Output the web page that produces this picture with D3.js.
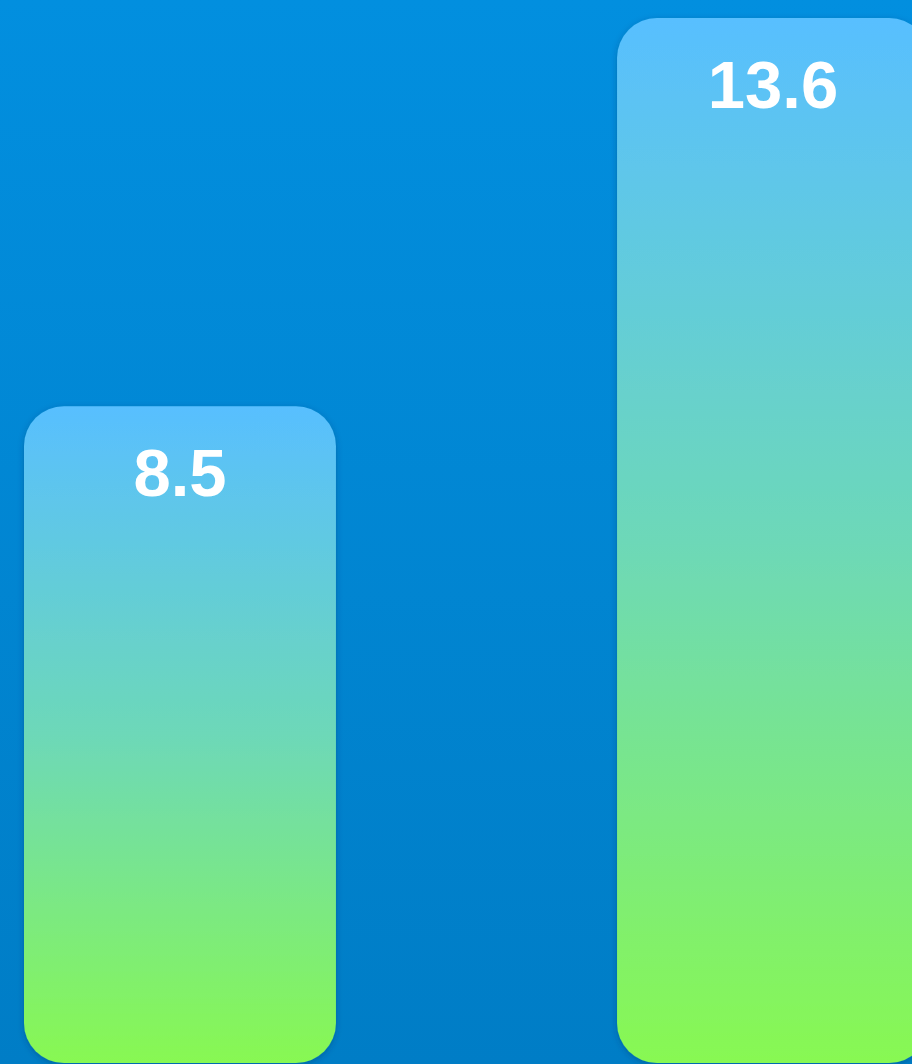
<!DOCTYPE html>
<html><head><meta charset="utf-8">
<script src="https://cdn.jsdelivr.net/npm/d3@7"></script>
<style>html,body{margin:0;padding:0;overflow:hidden;background:#0088d6}</style>
</head><body>
<script>
const categories = ["A", "B"];
const values = [8.5, 13.6];
const labels = ["8.5", "13.6"];

const W = 912, H = 1064;
const svg = d3.select("body").append("svg").attr("width", W).attr("height", H);
const defs = svg.append("defs");

const bg = defs.append("linearGradient").attr("id", "bg").attr("x1", 0).attr("y1", 0).attr("x2", 0).attr("y2", 1);
bg.append("stop").attr("offset", "0%").attr("stop-color", "#028fdf");
bg.append("stop").attr("offset", "100%").attr("stop-color", "#007dc6");

const bar = defs.append("linearGradient").attr("id", "bar").attr("x1", 0).attr("y1", 0).attr("x2", 0).attr("y2", 1);
bar.append("stop").attr("offset", "0%").attr("stop-color", "#58bfff");
bar.append("stop").attr("offset", "50%").attr("stop-color", "#6dd8b8");
bar.append("stop").attr("offset", "100%").attr("stop-color", "#88f852");

const sh = defs.append("filter").attr("id", "sh").attr("x", "-10%").attr("y", "-10%").attr("width", "120%").attr("height", "120%");
sh.append("feDropShadow").attr("dx", 0).attr("dy", 2).attr("stdDeviation", 3).attr("flood-color", "#003060").attr("flood-opacity", 0.35);

svg.append("rect").attr("width", W).attr("height", H).attr("fill", "url(#bg)");

const x = d3.scaleBand().domain(categories).range([24, 929]).paddingInner(0.474).paddingOuter(0);
const y = d3.scaleLinear().domain([0, 13.6]).range([1053, 18]);

const data = categories.map((c, i) => ({c, v: values[i], l: labels[i]}));

svg.selectAll("rect.bar").data(data).join("rect").attr("class", "bar")
  .attr("x", d => x(d.c))
  .attr("y", d => y(d.v))
  .attr("width", x.bandwidth())
  .attr("height", d => y(0) - y(d.v) + 10)
  .attr("rx", 40).attr("ry", 40)
  .attr("fill", "url(#bar)")
  .attr("filter", "url(#sh)");

svg.selectAll("text.lbl").data(data).join("text").attr("class", "lbl")
  .attr("x", d => x(d.c) + x.bandwidth() / 2)
  .attr("y", d => y(d.v) + 90)
  .attr("text-anchor", "middle")
  .attr("fill", "#ffffff")
  .attr("font-family", "Liberation Sans, Arial, Helvetica, sans-serif")
  .attr("font-weight", "bold")
  .attr("font-size", 67)
  .text(d => d.l);
</script>
</body></html>
